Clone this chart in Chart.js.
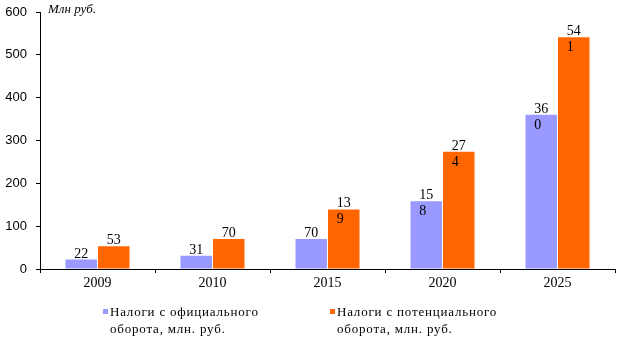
<!DOCTYPE html>
<html>
<head>
<meta charset="utf-8">
<script src="https://cdn.jsdelivr.net/npm/chart.js@4/dist/chart.umd.min.js"></script>
<style>
  html, body { margin: 0; padding: 0; background: #fff; }
  #wrap { position: relative; width: 618px; height: 337px; }
  #chart { position: absolute; left: 0; top: 0; }
  .unit { position: absolute; left: 48px; top: 1px; font: italic 13px "Liberation Serif", serif; color: #000; }
  .leg { position: absolute; top: 303px; font: 13px "Liberation Serif", serif; line-height: 17px; color: #000; letter-spacing: 0.8px; }
  .leg i { position: absolute; left: -7px; top: 6px; width: 5px; height: 5px; }
</style>
</head>
<body>
<div id="wrap">
  <canvas id="chart" width="618" height="337"></canvas>
  <div class="unit">Млн руб.</div>
  <div class="leg" style="left:110px"><i style="background:#9999ff"></i>Налоги с официального<br>оборота, млн. руб.</div>
  <div class="leg" style="left:337px"><i style="background:#ff6600"></i>Налоги с потенциального<br>оборота, млн. руб.</div>
</div>
<script>
const years = ['2009', '2010', '2015', '2020', '2025'];
const officialTax = [22, 31, 70, 158, 360];
const potentialTax = [53, 70, 139, 274, 541];
const yTicks = [0, 100, 200, 300, 400, 500, 600];

const FONT = '"Liberation Serif", serif';

// value labels: 3-digit numbers wrap, last digit goes inside the bar
const valueLabels = {
  id: 'valueLabels',
  afterDatasetsDraw(chart) {
    const ctx = chart.ctx;
    ctx.save();
    ctx.font = '14px ' + FONT;
    ctx.fillStyle = '#000';
    ctx.textBaseline = 'alphabetic';
    chart.data.datasets.forEach((ds, di) => {
      chart.getDatasetMeta(di).data.forEach((bar, i) => {
        const s = String(ds.data[i]);
        if (s.length < 3) {
          ctx.textAlign = 'center';
          ctx.fillText(s, bar.x, bar.y - 2);
        } else {
          const first = s.slice(0, 2);
          const left = bar.x - ctx.measureText(first).width / 2;
          ctx.textAlign = 'left';
          ctx.fillText(first, left, bar.y - 2);
          ctx.fillText(s.slice(2), left, bar.y + 14);
        }
      });
    });
    ctx.restore();
  }
};

new Chart(document.getElementById('chart'), {
  type: 'bar',
  data: {
    labels: years,
    datasets: [
      { label: 'Налоги с официального оборота, млн. руб.', data: officialTax, backgroundColor: '#9999ff' },
      { label: 'Налоги с потенциального оборота, млн. руб.', data: potentialTax, backgroundColor: '#ff6600' }
    ]
  },
  options: {
    responsive: false,
    animation: false,
    layout: { padding: { top: 12, right: 3, left: 0 } },
    plugins: { legend: { display: false }, tooltip: { enabled: false } },
    datasets: { bar: { categoryPercentage: 0.565, barPercentage: 0.97 } },
    scales: {
      x: {
        grid: { offset: true, drawOnChartArea: false, color: '#000', tickLength: 4 },
        border: { color: '#000', width: 1 },
        ticks: { color: '#000', font: { family: FONT, size: 14 }, padding: 2, maxRotation: 0 },
        afterFit(s) { s.height = 68; }
      },
      y: {
        min: 0, max: 600,
        afterBuildTicks(s) { s.ticks = yTicks.map(v => ({ value: v })); },
        grid: { drawOnChartArea: false, color: '#000', tickLength: 4 },
        border: { color: '#000', width: 1 },
        ticks: { color: '#000', font: { family: '"Liberation Sans", sans-serif', size: 13 }, padding: 9 },
        afterFit(s) { s.width = 40; s.paddingTop = 0; s.paddingBottom = 0; }
      }
    }
  },
  plugins: [valueLabels]
});
</script>
</body>
</html>
